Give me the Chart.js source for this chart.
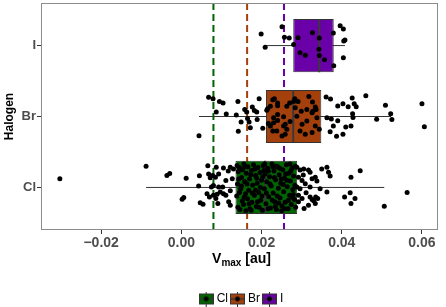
<!DOCTYPE html>
<html lang="en">
<head>
<meta charset="UTF-8">
<title>Vmax by halogen</title>
<script src="https://cdn.jsdelivr.net/npm/chart.js"></script>
<style>
  html, body { margin: 0; padding: 0; background: #fff; }
</style>
</head>
<body>
<canvas id="chart" width="446" height="307"></canvas>
<script>
// categories, bottom to top (y = 1, 2, 3)
const halogens = ['Cl', 'Br', 'I'];

// box statistics
const q1 = [0.0135, 0.0211, 0.0279];
const med = [0.0209, 0.0279, 0.0344];
const q3 = [0.0289, 0.0349, 0.0380];
const whiskLo = [-0.0088, 0.0044, 0.0209];
const whiskHi = [0.0506, 0.0523, 0.0408];

// dashed reference lines (Cl, Br, I)
const refLines = [0.0080, 0.0164, 0.0256];

const xTicks = [-0.02, 0, 0.02, 0.04, 0.06];

// jittered observations: [value, vertical jitter in category units]
const clPts = [
  [-0.0303,0.121],[-0.0088,0.298],[-0.0036,0.170],[-0.0029,0.198],[0.0012,0.131],[0.0045,0.163],
  [0.0043,0.021],[0.0066,0.306],[0.0068,0.191],[0.0072,0.135],[0.0078,0.167],[0.0087,0.284],
  [0.0105,0.274],[0.0075,0.006],[0.0080,0.028],[0.0093,0.006],[0.0111,0.097],[0.0002,-0.167],
  [0.0006,-0.143],[0.0047,-0.217],[0.0054,-0.237],[0.0064,-0.088],[0.0070,-0.134],[0.0080,-0.111],
  [0.0089,-0.097],[0.0086,-0.157],[0.0091,-0.227],[0.0097,-0.064],[0.0105,-0.088],[0.0111,-0.111],
  [0.0118,-0.203],[0.0122,-0.251],[0.0085,0.145],[0.0093,0.191],[0.0103,0.006],[0.0117,0.233],
  [0.0127,0.121],[0.0122,-0.046],[0.0122,0.284],[0.0130,0.260],
  // inside the box
  [0.0139,0.31],[0.0142,0.22],[0.0140,0.05],[0.0138,-0.12],[0.0141,-0.28],
  [0.0147,0.27],[0.0150,0.14],[0.0148,-0.02],[0.0152,-0.19],[0.0146,-0.31],
  [0.0156,0.33],[0.0158,0.08],[0.0160,-0.09],[0.0155,-0.24],[0.0162,0.20],
  [0.0166,0.29],[0.0168,-0.04],[0.0170,0.12],[0.0165,-0.16],[0.0171,-0.30],
  [0.0175,0.24],[0.0178,0.03],[0.0176,-0.21],[0.0180,0.32],[0.0182,-0.11],
  [0.0185,0.17],[0.0187,-0.27],[0.0189,0.06],[0.0191,0.28],[0.0193,-0.07],
  [0.0196,0.21],[0.0198,-0.18],[0.0200,0.10],[0.0202,-0.32],[0.0204,0.31],
  [0.0207,-0.02],[0.0209,0.19],[0.0211,-0.23],[0.0213,0.08],[0.0215,0.27],
  [0.0218,-0.13],[0.0220,0.15],[0.0222,-0.29],[0.0224,0.02],[0.0226,0.33],
  [0.0229,-0.08],[0.0231,0.23],[0.0233,-0.20],[0.0235,0.11],[0.0237,-0.31],
  [0.0240,0.29],[0.0242,-0.01],[0.0244,0.18],[0.0246,-0.15],[0.0248,0.06],
  [0.0251,-0.26],[0.0253,0.25],[0.0255,-0.06],[0.0257,0.13],[0.0259,-0.21],
  [0.0262,0.32],[0.0264,0.01],[0.0266,-0.30],[0.0268,0.20],[0.0270,-0.11],
  [0.0272,0.09],[0.0274,-0.24],[0.0276,0.27],[0.0278,-0.03],[0.0280,0.16],
  [0.0282,-0.17],[0.0284,0.30],[0.0285,-0.28],[0.0143,0.12],[0.0161,-0.33],
  [0.0173,0.18],[0.0194,-0.28],[0.0217,0.23],[0.0239,-0.12],[0.0260,0.19],
  [0.0150,0.02],[0.0185,-0.04],[0.0228,0.29],[0.0250,-0.33],[0.0271,0.33],
  [0.0157,-0.14],[0.0203,0.15],[0.0245,0.27],[0.0279,-0.10],[0.0190,-0.20],
  [0.0145,-0.07],[0.0153,0.25],[0.0164,0.05],[0.0169,-0.23],[0.0177,-0.08],
  [0.0183,0.26],[0.0188,0.13],[0.0197,0.00],[0.0201,-0.12],[0.0206,0.24],
  [0.0212,-0.08],[0.0216,-0.30],[0.0221,0.05],[0.0227,-0.18],[0.0232,0.14],
  [0.0236,0.30],[0.0243,-0.22],[0.0249,0.12],[0.0254,0.04],[0.0258,-0.30],
  [0.0263,0.10],[0.0267,-0.18],[0.0273,0.23],[0.0277,-0.14],[0.0283,0.03],
  [0.0144,0.28],[0.0159,0.30],[0.0174,-0.32],[0.0208,0.33],[0.0234,-0.27],
  // right of the box
  [0.0288,0.284],[0.0296,0.247],[0.0305,0.260],[0.0317,0.247],[0.0321,0.214],[0.0350,0.260],
  [0.0363,0.284],[0.0367,0.214],[0.0371,0.160],[0.0423,0.145],[0.0446,0.237],[0.0292,0.145],
  [0.0301,0.097],[0.0309,0.052],[0.0326,0.121],[0.0334,0.145],[0.0338,0.089],[0.0288,0.006],
  [0.0296,-0.018],[0.0321,0.006],[0.0346,-0.018],[0.0363,-0.064],[0.0292,-0.111],[0.0301,-0.157],
  [0.0321,-0.134],[0.0326,-0.171],[0.0330,-0.189],[0.0335,-0.134],[0.0340,-0.157],[0.0317,-0.251],
  [0.0334,-0.227],[0.0292,-0.203],[0.0407,-0.134],[0.0421,-0.074],[0.0433,-0.157],[0.0423,-0.227],
  [0.0506,-0.265],[0.0563,-0.071],[0.0304,0.177],[0.0311,-0.074],[0.0306,-0.297]
];

const brPts = [
  [0.0044,-0.272],[0.0068,0.272],[0.0079,0.251],[0.0095,0.213],[0.0104,0.191],[0.0141,0.213],
  [0.0194,0.251],[0.0087,0.065],[0.0112,0.035],[0.0137,0.021],[0.0158,0.097],[0.0163,0.063],
  [0.0177,0.135],[0.0182,0.084],[0.0188,0.063],[0.0149,-0.077],[0.0169,-0.077],[0.0165,-0.028],
  [0.0189,-0.042],[0.0172,-0.157],[0.0203,-0.167],[0.0142,-0.209],
  [0.0215,0.111],[0.0222,0.143],[0.0228,0.237],[0.0240,0.191],[0.0230,-0.018],[0.0240,-0.056],
  [0.0222,-0.135],[0.0228,-0.205],[0.0255,-0.135],[0.0259,-0.251],[0.0251,-0.274],[0.0263,0.143],
  [0.0270,0.191],[0.0280,0.213],[0.0232,0.251],[0.0283,0.251],[0.0291,0.213],[0.0318,0.283],
  [0.0327,0.205],[0.0334,0.135],[0.0213,0.088],[0.0240,0.153],[0.0299,0.074],[0.0313,0.097],
  [0.0328,0.074],[0.0336,0.097],[0.0255,-0.004],[0.0288,0.004],[0.0240,0.028],[0.0259,-0.111],
  [0.0263,-0.181],[0.0301,-0.111],[0.0313,-0.065],[0.0326,-0.227],[0.0334,-0.135],[0.0296,-0.205],
  [0.0309,-0.251],[0.0326,0.052],[0.0338,-0.018],[0.0238,-0.205],[0.0230,-0.088],[0.0271,-0.070],
  [0.0217,-0.100],[0.0284,0.125],[0.0344,-0.181],
  [0.0361,0.274],[0.0372,0.247],[0.0390,0.149],[0.0403,0.178],[0.0416,0.139],[0.0426,0.260],
  [0.0431,0.181],[0.0436,0.139],[0.0460,0.292],[0.0509,0.157],[0.0600,0.181],[0.0363,-0.018],
  [0.0374,-0.035],[0.0390,-0.060],[0.0427,0.038],[0.0428,-0.014],[0.0487,-0.039],[0.0522,0.039],
  [0.0525,-0.042],[0.0606,-0.146],[0.0371,-0.216],[0.0387,-0.279],[0.0403,-0.251],[0.0410,-0.149],
  [0.0423,-0.135],[0.0379,-0.135]
];

const iPts = [
  [0.0199,0.163],[0.0209,-0.024],[0.0251,0.265],[0.0257,0.116],[0.0269,0.107],[0.0280,0.014],
  [0.0291,0.111],[0.0296,-0.102],[0.0309,-0.135],[0.0327,0.181],[0.0344,0.107],[0.0343,-0.052],
  [0.0344,-0.139],[0.0357,-0.199],[0.0379,0.177],[0.0380,-0.283],[0.0396,0.279],[0.0404,0.233],
  [0.0408,0.079],[0.0405,0.063],[0.0404,-0.171]
];

const fillColors = ['#006400', '#A3400B', '#6A00A8'];
const edge = '#333333';
const HALF = 0.375;
const FONT = '"Liberation Sans", Arial, sans-serif';

Chart.defaults.font.family = FONT;

const lineDs = (data, color, width, dash, order) => ({
  type: 'line', data: data, borderColor: color, borderWidth: width, borderDash: dash,
  pointRadius: 0, pointHoverRadius: 0, fill: false, tension: 0, order: order
});

const gap = {x: null, y: null};
const whiskData = [], medData = [];
halogens.forEach((h, i) => {
  whiskData.push({x: whiskLo[i], y: i + 1}, {x: whiskHi[i], y: i + 1}, gap);
  medData.push({x: med[i], y: i + 1 - HALF}, {x: med[i], y: i + 1 + HALF}, gap);
});

const pointData = [];
[clPts, brPts, iPts].forEach((pts, i) => {
  pts.forEach(p => pointData.push({x: p[0], y: i + 1 + p[1]}));
});

function keyImage(color) {
  const c = document.createElement('canvas');
  c.width = 15; c.height = 15;
  const g = c.getContext('2d');
  g.strokeStyle = edge; g.lineWidth = 1;
  g.beginPath(); g.moveTo(7.5, 0); g.lineTo(7.5, 15); g.stroke();
  g.fillStyle = color; g.fillRect(0.5, 2.5, 14, 10);
  g.strokeRect(0.5, 2.5, 14, 10);
  g.lineWidth = 1.5;
  g.beginPath(); g.moveTo(0.5, 7.5); g.lineTo(14.5, 7.5); g.stroke();
  g.fillStyle = '#000';
  g.beginPath(); g.arc(7.5, 7.5, 2.4, 0, Math.PI * 2); g.fill();
  return c;
}
const keys = fillColors.map(keyImage);

// ggplot centres the legend under the panel, not under the whole canvas
const legendUnderPanel = {
  id: 'legendUnderPanel',
  afterLayout(chart) {
    const lg = chart.legend, a = chart.chartArea;
    if (!lg) return;
    const shift = (a.left + a.right) / 2 - (lg.left + lg.right) / 2 + 3;
    lg.left += shift;
    lg.right += shift;
  }
};

const frameAndTitle = {
  id: 'frameAndTitle',
  afterDraw(chart) {
    const {ctx, chartArea: a} = chart;
    ctx.save();
    ctx.strokeStyle = '#8c8c8c';
    ctx.lineWidth = 1;
    ctx.strokeRect(Math.round(a.left) + 0.5, Math.round(a.top) + 0.5,
      Math.round(a.right - a.left) - 1, Math.round(a.bottom - a.top) - 1);

    const big = 'bold 14px ' + FONT, small = 'bold 10px ' + FONT;
    ctx.font = big;
    const wV = ctx.measureText('V').width, wAu = ctx.measureText(' [au]').width;
    ctx.font = small;
    const wM = ctx.measureText('max').width;
    let x = (a.left + a.right) / 2 - (wV + wM + wAu) / 2 + 2;
    const base = a.bottom + 33;
    ctx.fillStyle = '#000';
    ctx.textBaseline = 'alphabetic';
    ctx.font = big; ctx.fillText('V', x, base); x += wV;
    ctx.font = small; ctx.fillText('max', x, base + 3); x += wM;
    ctx.font = big; ctx.fillText(' [au]', x, base);
    ctx.restore();
  }
};

new Chart(document.getElementById('chart'), {
  type: 'scatter',
  data: {
    datasets: [
      {
        type: 'scatter', data: pointData, backgroundColor: '#000', borderWidth: 0,
        pointRadius: 2.5, pointHoverRadius: 2.5, order: 0
      },
      lineDs(medData, '#3a3a3a', 2, [], 1),
      {
        type: 'bar', indexAxis: 'y',
        data: halogens.map((h, i) => ({y: i + 1, x: [q1[i], q3[i]]})),
        backgroundColor: fillColors, borderColor: edge, borderWidth: 1, borderSkipped: false,
        categoryPercentage: 1, barPercentage: 2 * HALF, order: 2
      },
      lineDs(whiskData, edge, 1, [], 3),
      ...refLines.map((v, i) => lineDs([{x: v, y: 3.6}, {x: v, y: 0.4}], fillColors[i], 2, [7, 4], 4))
    ]
  },
  options: {
    responsive: false,
    animation: false,
    events: [],
    layout: {padding: {top: 3, right: 8, bottom: -8, left: 0}},
    plugins: {
      tooltip: {enabled: false},
      legend: {
        position: 'bottom',
        labels: {
          usePointStyle: true, pointStyleWidth: 9, padding: 5,
          font: {size: 12}, color: '#000',
          generateLabels: () => halogens.map((h, i) => ({
            text: h, pointStyle: keys[i], fillStyle: fillColors[i],
            strokeStyle: edge, lineWidth: 0, hidden: false
          }))
        }
      }
    },
    scales: {
      x: {
        type: 'linear', min: -0.035, max: 0.064, beginAtZero: false, offset: false,
        grid: {drawOnChartArea: false, tickLength: 4, color: edge, offset: false},
        border: {display: false},
        afterBuildTicks: s => { s.ticks = xTicks.map(v => ({value: v})); },
        ticks: {
          callback: v => v.toFixed(2).replace('-', '\u2212'),
          font: {size: 14, weight: 'bold'}, color: '#4d4d4d', padding: 1, maxRotation: 0
        },
        afterFit: s => { s.height = 58; s.paddingLeft = 0; s.paddingRight = 0; }
      },
      y: {
        type: 'linear', min: 0.4, max: 3.6, beginAtZero: false, offset: false,
        grid: {drawOnChartArea: false, tickLength: 4, color: edge, offset: false},
        border: {display: false},
        afterBuildTicks: s => { s.ticks = halogens.map((h, i) => ({value: i + 1})); },
        ticks: {
          callback: (v, i) => halogens[i],
          font: {size: 13, weight: 'bold'}, color: '#4d4d4d', padding: 1
        },
        title: {
          display: true, text: 'Halogen', color: '#000',
          font: {size: 12, weight: 'bold'}, padding: {top: 2, bottom: 0}
        },
        afterFit: s => { s.width = 41; s.paddingTop = 0; s.paddingBottom = 0; }
      }
    }
  },
  plugins: [legendUnderPanel, frameAndTitle]
});
</script>
</body>
</html>
